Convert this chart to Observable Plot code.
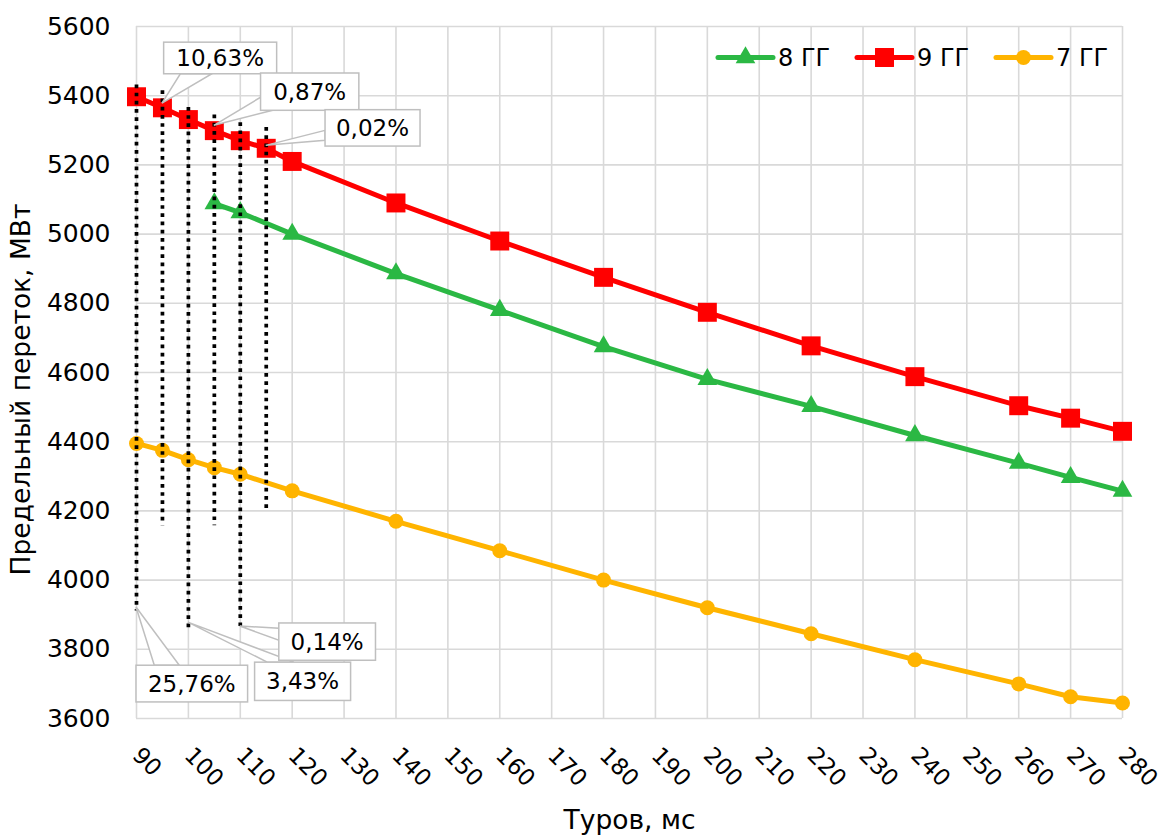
<!DOCTYPE html>
<html><head><meta charset="utf-8">
<script src="https://cdn.jsdelivr.net/npm/d3@7"></script>
<script src="https://cdn.jsdelivr.net/npm/@observablehq/plot@0.6"></script>
<style>
body{margin:0;background:#fff;}
#chart svg{display:block;}
</style></head><body><div id="chart"></div>
<script>
// ---- data ----
const xTicks = [90,100,110,120,130,140,150,160,170,180,190,200,210,220,230,240,250,260,270,280];
const yTicks = [3600,3800,4000,4200,4400,4600,4800,5000,5200,5400,5600];
const seriesNames = ["8 ГГ","9 ГГ","7 ГГ"];

const gg8X = [105,110,120,140,160,180,200,220,240,260,270,280];
const gg8Y = [5088,5062,5000,4886,4780,4675,4580,4502,4418,4338,4297,4257];
const gg9X = [90,95,100,105,110,115,120,140,160,180,200,220,240,260,270,280];
const gg9Y = [5397,5365,5331,5299,5270,5248,5210,5090,4980,4875,4774,4677,4588,4504,4468,4430];
const gg7X = [90,95,100,105,110,120,140,160,180,200,220,240,260,270,280];
const gg7Y = [4395,4375,4348,4325,4306,4258,4170,4085,4000,3920,3845,3770,3700,3663,3645];

const dropX = [90,95,100,105,110,115];
const dropTop = [5431,5414,5366,5344,5322,5308];
const dropBottom = [3911,4157,3853,4157,3853,4202];

const calloutLabels = ["10,63%","0,87%","0,02%","25,76%","3,43%","0,14%"];
const calloutX = [95,105,115,90,100,110];
const calloutY = [5377,5313,5255,3921,3877,3866];

// ---- styles / layout (not data) ----
const colors = ["#2bb844","#ff0000","#ffb400"];
const symbols = ["triangle","square","circle"];
const symbolR = [7.3,10.7,7.5];
const FONT = "DejaVu Sans";
// callout geometry relative to tip (px): box [x1,x2,y1,y2], wedge base points
const calloutGeom = [
  {box:[1.7,114.7,-61,-29.4], w:[[18.4,-29.4],[50,-29.4]]},
  {box:[46.7,145,-52.3,-15], w:[[46.7,-28],[58.7,-15]]},
  {box:[59.3,154.3,-35.7,0.7], w:[[59.3,-15],[59.3,-5]]},
  {box:[0,111.6,58.3,95], w:[[18.3,58.3],[43.3,58.3]]},
  {box:[66.7,162.7,40,78.3], w:[[79.4,40],[106,40]]},
  {box:[39,135.7,-3,34.3], w:[[39,2.3],[39,14.3]]}
];

const rows = [];
[[gg8X,gg8Y],[gg9X,gg9Y],[gg7X,gg7Y]].forEach(([xs,ys],i)=>{
  xs.forEach((x,j)=>rows.push({series:seriesNames[i], x, y:ys[j]}));
});
const drops = dropX.map((x,i)=>({x, y1:dropTop[i], y2:dropBottom[i]}));

const marks = [
  Plot.gridX(xTicks,{stroke:"#d9d9d9", strokeOpacity:1, strokeWidth:1.6}),
  Plot.gridY(yTicks,{stroke:"#d9d9d9", strokeOpacity:1, strokeWidth:1.6}),
  Plot.axisX(xTicks,{tickSize:0, tickRotate:45, tickPadding:33, fontSize:23, tickFormat:d=>String(d),
    label:"Туров, мс", labelAnchor:"center", labelArrow:"none", labelOffset:110}),
  Plot.axisY(yTicks,{tickSize:0, tickPadding:26, fontSize:25, tickFormat:d=>String(d),
    label:"Предельный переток, МВт", labelAnchor:"center", labelArrow:"none", labelOffset:125})
];
seriesNames.forEach((s,i)=>{
  const d = rows.filter(r=>r.series===s);
  marks.push(Plot.line(d,{x:"x", y:"y", stroke:colors[i], strokeWidth:5, strokeLinejoin:"round", strokeLinecap:"round"}));
  marks.push(Plot.dot(d,{x:"x", y:"y", fill:colors[i], symbol:symbols[i], r:symbolR[i], stroke:"none"}));
});
marks.push(Plot.ruleX(drops,{x:"x", y1:"y1", y2:"y2", stroke:"#000", strokeWidth:3.7, strokeDasharray:"3.7,4.5"}));

const plot = Plot.plot({
  width:1163, height:835,
  marginLeft:136, marginRight:41, marginTop:26, marginBottom:117,
  style:{fontFamily:FONT, fontSize:"24px", color:"#000", background:"#fff", overflow:"visible"},
  x:{domain:[90,280]},
  y:{domain:[3600,5600]},
  marks
});
document.getElementById("chart").appendChild(plot);

const svg = d3.select(plot);
// larger axis titles
svg.selectAll('g[aria-label="x-axis label"], g[aria-label="y-axis label"]').attr("font-size", 26.5);
svg.selectAll('g[aria-label="y-axis label"]').attr("transform", function(){
  const t = this.getAttribute("transform") || "";
  return "translate(0,17) " + t;
});

// ---- callouts ----
const sx = plot.scale("x"), sy = plot.scale("y");
const g = svg.append("g");
calloutLabels.forEach((lab,i)=>{
  const tx = sx.apply(calloutX[i]), ty = sy.apply(calloutY[i]);
  const c = calloutGeom[i];
  g.append("polygon")
    .attr("points",[[tx,ty],[tx+c.w[0][0],ty+c.w[0][1]],[tx+c.w[1][0],ty+c.w[1][1]]].map(p=>p.join(",")).join(" "))
    .attr("fill","#fff").attr("stroke","#bfbfbf").attr("stroke-width",1.5);
  g.append("rect")
    .attr("x",tx+c.box[0]).attr("y",ty+c.box[2])
    .attr("width",c.box[1]-c.box[0]).attr("height",c.box[3]-c.box[2])
    .attr("fill","#fff").attr("stroke","#bfbfbf").attr("stroke-width",1.5);
  g.append("text")
    .attr("x",tx+(c.box[0]+c.box[1])/2).attr("y",ty+(c.box[2]+c.box[3])/2)
    .attr("text-anchor","middle").attr("dominant-baseline","central")
    .attr("font-family",FONT).attr("font-size",23).attr("fill","#000")
    .text(lab);
});

// ---- legend (inside, top-right) ----
const lg = svg.append("g");
const legX = [718,857,996], legY = 57.5;
seriesNames.forEach((s,i)=>{
  lg.append("line").attr("x1",legX[i]).attr("x2",legX[i]+55).attr("y1",legY).attr("y2",legY)
    .attr("stroke",colors[i]).attr("stroke-width",5).attr("stroke-linecap","round");
  const sym = {triangle:d3.symbolTriangle, square:d3.symbolSquare, circle:d3.symbolCircle}[symbols[i]];
  lg.append("path").attr("transform",`translate(${legX[i]+27.5},${legY})`)
    .attr("d",d3.symbol(sym, Math.PI*symbolR[i]*symbolR[i])()).attr("fill",colors[i]);
  lg.append("text").attr("x",legX[i]+60).attr("y",legY).attr("dominant-baseline","central")
    .attr("text-anchor","start")
    .attr("font-family",FONT).attr("font-size",24).attr("fill","#000").text(s);
});
</script></body></html>
